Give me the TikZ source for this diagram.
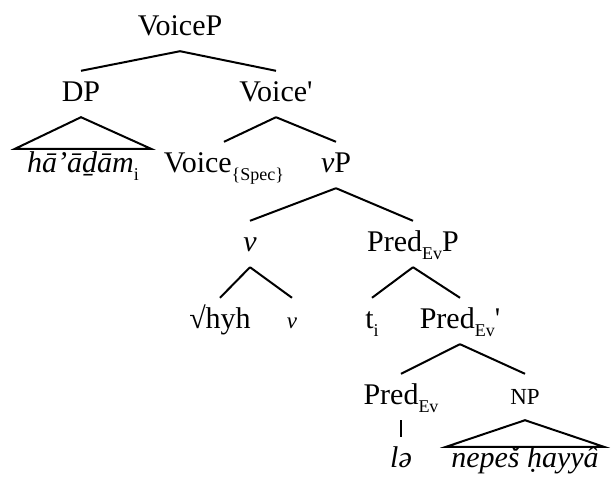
\documentclass[tikz,border=0pt]{standalone}
\usepackage{fontspec}
\setmainfont{Liberation Serif}[Ligatures=TeXOff]
% lowered, smaller subscript
\newcommand\lowsub[1]{\raisebox{-0.28em}{\fontsize{18}{18}\selectfont #1}}
\begin{document}
\begin{tikzpicture}[x=1pt,y=-1pt,
  lbl/.style={anchor=base, font=\fontsize{30}{36}\selectfont, text height=20pt, text depth=6pt, inner xsep=0pt, inner ysep=10pt},
  sml/.style={lbl, font=\fontsize{23}{27}\selectfont},
  leaf/.style={lbl, inner ysep=0pt},
  branch/.style={line width=2pt},
  roof/.style={line width=2pt, line join=miter}]
\useasboundingbox (0,0) rectangle (611,480);

% labels
\node[lbl] (voicep) at (180,35) {VoiceP};
\node[lbl] (dp) at (81,101) {DP};
\node[lbl] (voicebar) at (276,101) {Voice'};
\node[leaf, inner xsep=12pt, text height=23pt] (adam) at (83,172) {\textit{hā’āḏām}\lowsub{i}};
\node[lbl] (voicehead) at (224,172) {Voice\lowsub{\{Spec\}}};
\node[lbl] (vp) at (336,172) {\textit{v}P};
\node[lbl] (vsmall) at (250,251) {\textit{v}};
\node[lbl] (predp) at (413,251) {Pred\lowsub{Ev}P};
\node[lbl] (root) at (220,328) {√hyh};
\node[sml] (vhead) at (292,328) {\textit{v}};
\node[lbl] (trace) at (372,328) {t\lowsub{i}};
\node[lbl] (predbar) at (460,328) {Pred\lowsub{Ev}'};
\node[lbl] (pred) at (401,404) {Pred\lowsub{Ev}};
\node[sml] (np) at (525,404) {NP};
\node[lbl] (le) at (401,467) {\textit{lə}};
\node[leaf, inner xsep=5pt] (nepes) at (525,467) {\textit{nepeš ḥayyâ}};

% branches
\draw[branch] (voicep.south) -- (dp.north);
\draw[branch] (voicep.south) -- (voicebar.north);
\draw[roof] (dp.south) -- (adam.north west) -- (adam.north east) -- cycle;
\draw[branch] (voicebar.south) -- (voicehead.north);
\draw[branch] (voicebar.south) -- (vp.north);
\draw[branch] (vp.south) -- (vsmall.north);
\draw[branch] (vp.south) -- (predp.north);
\draw[branch] (vsmall.south) -- (root.north);
\draw[branch] (vsmall.south) -- (vhead.north);
\draw[branch] (predp.south) -- (trace.north);
\draw[branch] (predp.south) -- (predbar.north);
\draw[branch] (predbar.south) -- (pred.north);
\draw[branch] (predbar.south) -- (np.north);
\draw[branch] (pred.south) -- (le.north);
\draw[roof] (np.south) -- (nepes.north west) -- (nepes.north east) -- cycle;
\end{tikzpicture}
\end{document}
